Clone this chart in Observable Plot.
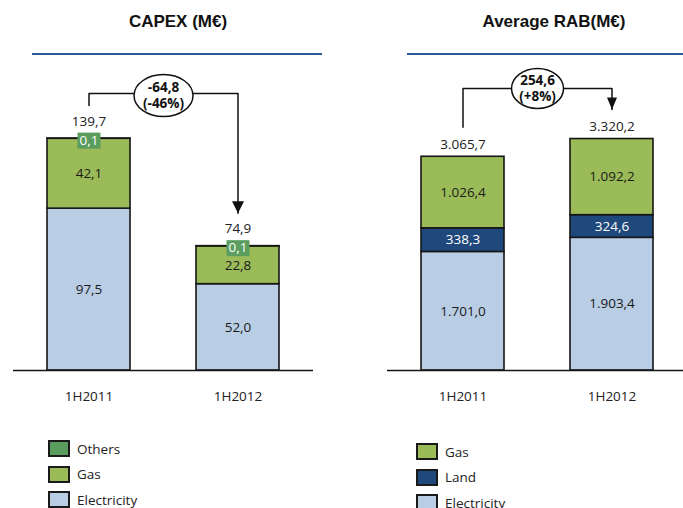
<!DOCTYPE html>
<html><head><meta charset="utf-8">
<script src="https://cdn.jsdelivr.net/npm/d3@7"></script>
<script src="https://cdn.jsdelivr.net/npm/@observablehq/plot@0.6"></script>
<style>
body{margin:0;background:#fff;}
#wrap{position:relative;width:683px;height:508px;overflow:hidden;background:#fff;font-family:"Open Sans",sans-serif;}
.title{position:absolute;top:12px;width:240px;line-height:20px;text-align:center;font:bold 17px "Liberation Sans",Arial,sans-serif;color:#111;}
.rule{position:absolute;top:53px;height:2px;background:#2e5b94;}
.plot{position:absolute;top:0;}
.item{position:absolute;display:flex;align-items:center;white-space:nowrap;font-size:13.5px;color:#222;height:17px;}
.sw{width:22px;height:17px;border:2px solid #1a1a1a;box-sizing:border-box;margin-right:7px;flex:none;}
</style></head>
<body>
<div id="wrap"></div>
<script>
// ---------- data ----------
const periods = ["1H2011", "1H2012"];

// CAPEX (M€) — stacked bottom to top
const capexSeries = ["Electricity", "Gas", "Others"];
const capexElectricity = [97.5, 52.0];
const capexGas = [42.1, 22.8];
const capexOthers = [0.1, 0.1];
const capexTotals = [139.7, 74.9];
const capexChange = ["-64,8", "(-46%)"];
const capexColors = ["#b9cde5", "#9bbb59", "#5a9d5e"];
const capexLegend = ["Others", "Gas", "Electricity"];

// Average RAB (M€) — stacked bottom to top
const rabSeries = ["Electricity", "Land", "Gas"];
const rabElectricity = [1701.0, 1903.4];
const rabLand = [338.3, 324.6];
const rabGas = [1026.4, 1092.2];
const rabTotals = [3065.7, 3320.2];
const rabChange = ["254,6", "(+8%)"];
const rabColors = ["#b9cde5", "#1f497d", "#9bbb59"];
const rabLegend = ["Gas", "Land", "Electricity"];

// ---------- helpers ----------
const fmt = d3.formatLocale({decimal: ",", thousands: ".", grouping: [3], currency: ["", "€"]}).format(",.1f");
const PAD_IN = 0.443, PAD_OUT = 0.228;
const FONT = "'Open Sans', sans-serif";

function ellipseSymbol(rx, ry) {
  const c = 0.5523;
  return {draw(ctx) {
    ctx.moveTo(rx, 0);
    ctx.bezierCurveTo(rx, ry * c, rx * c, ry, 0, ry);
    ctx.bezierCurveTo(-rx * c, ry, -rx, ry * c, -rx, 0);
    ctx.bezierCurveTo(-rx, -ry * c, -rx * c, -ry, 0, -ry);
    ctx.bezierCurveTo(rx * c, -ry, rx, -ry * c, rx, 0);
    ctx.closePath();
  }};
}
function arrowSymbol(w, h) {
  return {draw(ctx) {
    ctx.moveTo(-w / 2, -h); ctx.lineTo(w / 2, -h); ctx.lineTo(0, 0); ctx.closePath();
  }};
}
function boxSymbol(w, h) {
  return {draw(ctx) {
    ctx.moveTo(-w / 2, -h / 2); ctx.lineTo(w / 2, -h / 2); ctx.lineTo(w / 2, h / 2); ctx.lineTo(-w / 2, h / 2); ctx.closePath();
  }};
}

function panel(cfg) {
  const rows = [];
  periods.forEach((p, i) => {
    let acc = 0;
    cfg.series.forEach((s, j) => {
      const v = cfg.values[j][i];
      rows.push({period: p, series: s, value: v, y1: acc, y2: acc + v});
      acc += v;
    });
  });
  const plotH = cfg.height - cfg.marginTop - cfg.marginBottom;
  const k = plotH / cfg.yMax;
  const u = px => px / k;
  const frameW = cfg.width - cfg.marginLeft - cfg.marginRight;
  const step = frameW / (periods.length - PAD_IN + 2 * PAD_OUT);
  const top = Math.max(...cfg.totals);
  const level = top + u(cfg.levelPx);
  const conn = [
    {period: periods[0], y: cfg.totals[0] + u(cfg.gapPx)},
    {period: periods[0], y: level},
    {period: periods[1], y: level},
    {period: periods[1], y: cfg.totals[1] + u(cfg.gapPx)}
  ];
  const totalsData = periods.map((p, i) => ({period: p, total: cfg.totals[i]}));
  const inner = rows.filter(d => d.series !== cfg.tinySeries);
  const marks = [
    Plot.barY(rows, {x: "period", y1: "y1", y2: "y2", fill: "series", stroke: "#161616", strokeWidth: 1.6}),
    Plot.ruleY([0], {stroke: "#161616", strokeWidth: 1.6}),
    Plot.text(inner.filter(d => !cfg.darkSeries.includes(d.series)), {x: "period", y: d => (d.y1 + d.y2) / 2, text: d => fmt(d.value), fill: "#1a1a1a"}),
    Plot.text(inner.filter(d => cfg.darkSeries.includes(d.series)), {x: "period", y: d => (d.y1 + d.y2) / 2, text: d => fmt(d.value), fill: "white"}),
    Plot.text(totalsData, {x: "period", y: "total", text: d => fmt(d.total), dy: cfg.totalDy, fill: "#222"}),
    Plot.line(conn, {x: "period", y: "y", stroke: "#111", strokeWidth: 1.5}),
    Plot.dot([conn[3]], {x: "period", y: "y", symbol: arrowSymbol(cfg.arrow[0], cfg.arrow[1]), fill: "#111", stroke: "none"}),
    Plot.dot([cfg.change], {x: () => periods[0], y: () => level, dx: step / 2, dy: cfg.ellipseDy, symbol: ellipseSymbol(cfg.ellipse[0], cfg.ellipse[1]), fill: "white", stroke: "#111", strokeWidth: 1.5}),
    Plot.text([cfg.change], {x: () => periods[0], y: () => level, dx: step / 2, dy: cfg.ellipseDy - 1, text: d => d.join("\n"), lineHeight: 1.2, fontWeight: "bold", fill: "#111"})
  ];
  if (cfg.tinySeries) {
    const tiny = rows.filter(d => d.series === cfg.tinySeries);
    const col = cfg.colors[cfg.series.indexOf(cfg.tinySeries)];
    marks.push(
      Plot.dot(tiny, {x: "period", y: "y2", dy: 2, symbol: boxSymbol(23, 16), fill: col, stroke: "none"}),
      Plot.text(tiny, {x: "period", y: "y2", dy: 2, text: d => fmt(d.value), fill: "white"})
    );
  }
  return Plot.plot({
    width: cfg.width, height: cfg.height,
    marginTop: cfg.marginTop, marginBottom: cfg.marginBottom,
    marginLeft: cfg.marginLeft, marginRight: cfg.marginRight,
    style: {fontFamily: FONT, fontSize: "13.5px", color: "#222", background: "transparent", overflow: "visible"},
    x: {type: "band", domain: periods, paddingInner: PAD_IN, paddingOuter: PAD_OUT, align: 0.5, label: null, tickSize: 0, tickPadding: 21},
    y: {domain: [0, cfg.yMax], axis: null},
    color: {domain: cfg.series, range: cfg.colors},
    marks
  });
}

const wrap = document.getElementById("wrap");
function addDiv(cls, css, html) {
  const d = document.createElement("div");
  d.className = cls;
  Object.assign(d.style, css);
  if (html != null) d.innerHTML = html;
  wrap.appendChild(d);
  return d;
}

// left panel
const left = panel({
  series: capexSeries, values: [capexElectricity, capexGas, capexOthers], totals: capexTotals,
  colors: capexColors, change: capexChange, tinySeries: "Others", darkSeries: [],
  width: 341, height: 508, marginTop: 121, marginBottom: 138, marginLeft: 13, marginRight: 28, yMax: 150,
  totalDy: -17, gapPx: 33, levelPx: 45, arrow: [12, 12], ellipse: [29.5, 21], ellipseDy: 2
});
const right = panel({
  series: rabSeries, values: [rabElectricity, rabLand, rabGas], totals: rabTotals,
  colors: rabColors, change: rabChange, tinySeries: null, darkSeries: ["Land"],
  width: 347, height: 508, marginTop: 126, marginBottom: 138, marginLeft: 47, marginRight: 0, yMax: 3500,
  totalDy: -12, gapPx: 29.5, levelPx: 50.5, arrow: [10, 12], ellipse: [26, 20], ellipseDy: 0
});
const lp = addDiv("plot", {left: "0px", width: "341px"}); lp.appendChild(left);
const rp = addDiv("plot", {left: "340px", width: "347px"}); rp.appendChild(right);

addDiv("title", {left: (178 - 120) + "px"}, "CAPEX (M€)");
addDiv("title", {left: (554 - 120) + "px"}, "Average RAB(M€)");
addDiv("rule", {left: "32px", width: "290px"});
addDiv("rule", {left: "407px", width: "280px"});

function legend(names, series, colors, x, y0) {
  names.forEach((n, i) => {
    const c = colors[series.indexOf(n)];
    addDiv("item", {left: x + "px", top: (y0 + i * 25.5) + "px"}, `<span class="sw" style="background:${c}"></span><span>${n}</span>`);
  });
}
legend(capexLegend, capexSeries, capexColors, 48, 440);
legend(rabLegend, rabSeries, rabColors, 416, 443);
</script>
</body></html>
